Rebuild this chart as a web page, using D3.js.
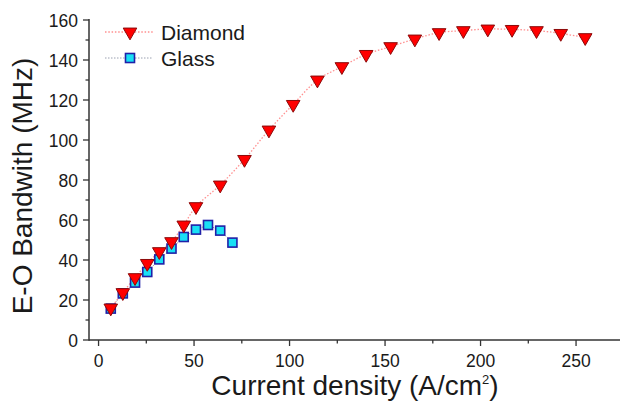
<!DOCTYPE html>
<html><head><meta charset="utf-8">
<script src="https://cdn.jsdelivr.net/npm/d3@7"></script>
<style>body{margin:0;background:#fff}svg{display:block}text{font-family:"Liberation Sans",Arial,sans-serif;fill:#1a1a1a}</style>
</head><body><svg id="c" width="620" height="401"></svg>
<script>
const diamondX = [6.4,12.7,19.1,25.5,31.8,38.2,44.6,51.0,63.7,76.4,89.2,101.9,114.6,127.4,140.1,152.9,165.6,178.3,191.0,203.8,216.5,229.3,242.0,254.8];
const diamondY = [16,23.7,31.2,38.3,44.2,49.2,57.5,66.7,77.5,90.3,105,117.8,130,136.7,142.8,146.7,150.5,153.7,154.7,155.5,155.3,154.7,153.3,151.2];
const glassX = [6.4,12.7,19.1,25.5,31.8,38.2,44.6,51.0,57.3,63.7,70.1];
const glassY = [15.7,23.3,28.7,34,40.3,45.7,51.5,55.2,57.5,54.7,48.7];
const xTicks = [0,50,100,150,200,250];
const yTicks = [0,20,40,60,80,100,120,140,160];
const seriesNames = ["Diamond","Glass"];

const svg = d3.select("#c");
const x = d3.scaleLinear().domain([-5,275]).range([89,623.8]);
const y = d3.scaleLinear().domain([0,160]).range([340,20]);
const axisColor = "#333";

const xMinor = d3.range(25,275,50);
const yMinor = d3.range(10,160,20);

const gx = svg.append("g").attr("transform","translate(0,340)");
gx.append("line").attr("x1",89).attr("x2",620).attr("stroke",axisColor).attr("stroke-width",1.5);
gx.selectAll(".maj").data(xTicks).join("line").attr("x1",d=>x(d)).attr("x2",d=>x(d)).attr("y1",0).attr("y2",6).attr("stroke",axisColor).attr("stroke-width",1.3);
gx.selectAll(".min").data(xMinor).join("line").attr("x1",d=>x(d)).attr("x2",d=>x(d)).attr("y1",0).attr("y2",3.5).attr("stroke",axisColor).attr("stroke-width",1.3);
gx.selectAll("text").data(xTicks).join("text").attr("x",d=>x(d)).attr("y",26.5).attr("text-anchor","middle").attr("font-size",17.5).text(d=>d);

const gy = svg.append("g");
gy.append("line").attr("x1",89).attr("x2",89).attr("y1",y(160)-1).attr("y2",340.75).attr("stroke",axisColor).attr("stroke-width",1.5);
gy.selectAll(".maj").data(yTicks).join("line").attr("x1",83).attr("x2",89).attr("y1",d=>y(d)).attr("y2",d=>y(d)).attr("stroke",axisColor).attr("stroke-width",1.3);
gy.selectAll(".min").data(yMinor).join("line").attr("x1",85.5).attr("x2",89).attr("y1",d=>y(d)).attr("y2",d=>y(d)).attr("stroke",axisColor).attr("stroke-width",1.3);
gy.selectAll("text").data(yTicks).join("text").attr("x",78).attr("y",d=>y(d)+6.5).attr("text-anchor","end").attr("font-size",17.5).text(d=>d);

svg.append("text").attr("transform","translate(32,186) rotate(-90)").attr("text-anchor","middle").attr("font-size",28).text("E-O Bandwith (MHz)");
const xt = svg.append("text").attr("x",355).attr("y",395).attr("text-anchor","middle").attr("font-size",28);
xt.append("tspan").text("Current density (A/cm");
xt.append("tspan").attr("font-size",13).attr("dy",-11).text("2");
xt.append("tspan").attr("dy",11).text(")");

const line = d3.line().x(d=>x(d[0])).y(d=>y(d[1]));
const dData = diamondX.map((v,i)=>[v,diamondY[i]]);
const gData = glassX.map((v,i)=>[v,glassY[i]]);

svg.append("path").datum(gData).attr("d",line).attr("fill","none").attr("stroke","#9aa0b0").attr("stroke-width",1).attr("stroke-dasharray","1.5,1.5");
svg.append("path").datum(dData).attr("d",d3.line().curve(d3.curveCatmullRom).x(d=>x(d[0])).y(d=>y(d[1]))).attr("fill","none").attr("stroke","#ff9090").attr("stroke-width",1.3).attr("stroke-dasharray","1.5,1.8");

const tri = d3.symbol().type(d3.symbolTriangle).size(80);
function drawTri(sel){ sel.attr("d",tri()).attr("fill","#ff0000").attr("stroke","#8b0a0a").attr("stroke-width",1); }
function drawSq(sel){ sel.attr("width",9).attr("height",9).attr("x",-4.5).attr("y",-4.5).attr("fill","#19e0f5").attr("stroke","#2020a8").attr("stroke-width",1.6); }

svg.selectAll(".gs").data(gData).join("rect").attr("class","gs").attr("transform",d=>`translate(${x(d[0])},${y(d[1])})`).call(drawSq);
svg.selectAll(".dt").data(dData).join("path").attr("class","dt").attr("transform",d=>`translate(${x(d[0])},${y(d[1])}) rotate(180)`).call(drawTri);

const leg = svg.append("g");
const ly = [32,58];
leg.append("line").attr("x1",105).attr("x2",153).attr("y1",ly[0]).attr("y2",ly[0]).attr("stroke","#ff9090").attr("stroke-width",1.3).attr("stroke-dasharray","1.5,1.8");
leg.append("path").attr("transform",`translate(130,${ly[0]}) rotate(180)`).call(drawTri);
leg.append("line").attr("x1",105).attr("x2",153).attr("y1",ly[1]).attr("y2",ly[1]).attr("stroke","#9aa0b0").attr("stroke-width",1).attr("stroke-dasharray","1.5,1.5");
leg.append("rect").attr("transform",`translate(130,${ly[1]})`).call(drawSq);
leg.selectAll("text").data(seriesNames).join("text").attr("x",161).attr("y",(d,i)=>ly[i]+7.5).attr("font-size",21).text(d=>d);
</script></body></html>
